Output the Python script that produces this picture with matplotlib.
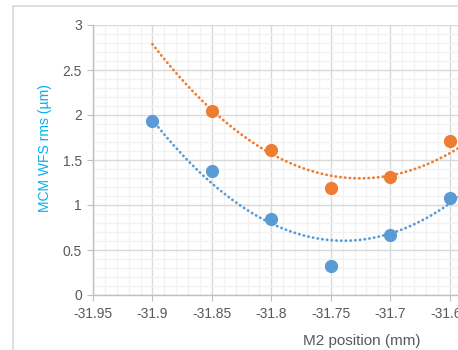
import numpy as np
import matplotlib
matplotlib.use("Agg")
import matplotlib.pyplot as plt
from matplotlib.patches import Rectangle
from matplotlib.ticker import MultipleLocator

plt.rcParams['font.family'] = ['Liberation Sans', 'DejaVu Sans']
plt.rcParams['axes.unicode_minus'] = False

# measured points
positions = [-31.9, -31.85, -31.8, -31.75, -31.7, -31.65]
blue_rms = [1.93, 1.38, 0.85, 0.32, 0.67, 1.08]
orange_pos = [-31.85, -31.8, -31.75, -31.7, -31.65]
orange_rms = [2.05, 1.61, 1.19, 1.31, 1.71]

# poly(2) trendlines, values
blue_trend_x = [-31.9, -31.85, -31.8, -31.742, -31.7, -31.65]
blue_trend_y = [1.93, 1.26, 0.81, 0.585, 0.667, 1.03]
orange_trend_x = [-31.9, -31.85, -31.8, -31.725, -31.7, -31.65]
orange_trend_y = [2.79, 2.04, 1.59, 1.29, 1.32, 1.58]

blue = "#5B9BD5"
orange = "#ED7D31"
grey = "#595959"

fig = plt.figure(figsize=(4.58, 3.5), dpi=100)
W, H = 458, 350

# chart area border (runs off the right/bottom edge)
fig.patches.append(Rectangle((13 / W, -0.2), 2.0, 1 - 6 / H + 0.2,
                             transform=fig.transFigure, fill=False,
                             edgecolor="#D9D9D9", linewidth=1.2))

ax = fig.add_axes([93 / W, 1 - 295 / H, (628 - 93) / W, (295 - 25) / H])

ax.set_xlim(-31.95, -31.5)
ax.set_ylim(0, 3)
ax.xaxis.set_major_locator(MultipleLocator(0.05))
ax.xaxis.set_minor_locator(MultipleLocator(0.01))
ax.yaxis.set_major_locator(MultipleLocator(0.5))
ax.yaxis.set_minor_locator(MultipleLocator(0.1))
ax.xaxis.set_major_formatter(plt.FuncFormatter(lambda v, p: f"{v:g}"))
ax.yaxis.set_major_formatter(plt.FuncFormatter(lambda v, p: f"{v:g}"))

ax.grid(which="minor", color="#F2F2F2", linewidth=1.0)
ax.grid(which="major", color="#D9D9D9", linewidth=1.0)
ax.set_axisbelow(True)

for s in ["top", "right"]:
    ax.spines[s].set_visible(False)
for s in ["left", "bottom"]:
    ax.spines[s].set_color("#BFBFBF")
    ax.spines[s].set_linewidth(1.0)

ax.tick_params(which="major", length=4, color="#BFBFBF", labelcolor=grey, labelsize=10)
ax.tick_params(axis="y", pad=4)
ax.tick_params(axis="x", pad=5)
ax.tick_params(which="minor", length=0)

xs = np.linspace(-31.9, -31.6, 200)
for tx, ty, c in [(blue_trend_x, blue_trend_y, blue), (orange_trend_x, orange_trend_y, orange)]:
    coef = np.polyfit(tx, ty, 2)
    ax.plot(xs, np.polyval(coef, xs), color=c, linewidth=2.0,
            linestyle=(0, (0.1, 1.6)), dash_capstyle="round", zorder=2)

ax.plot(positions, blue_rms, "o", color=blue, markersize=8.5, zorder=3, clip_on=False)
ax.plot(orange_pos, orange_rms, "o", color=orange, markersize=8.5, zorder=3, clip_on=False)

fig.text(45 / W, 1 - 148 / H, "MCM WFS rms (µm)", color="#00B0F0", fontsize=10,
         rotation=90, ha="center", va="center")
fig.text(362 / W, 1 - 341 / H, "M2 position (mm)", color=grey, fontsize=11,
         ha="center", va="center")

fig.savefig("out.png", dpi=100)
